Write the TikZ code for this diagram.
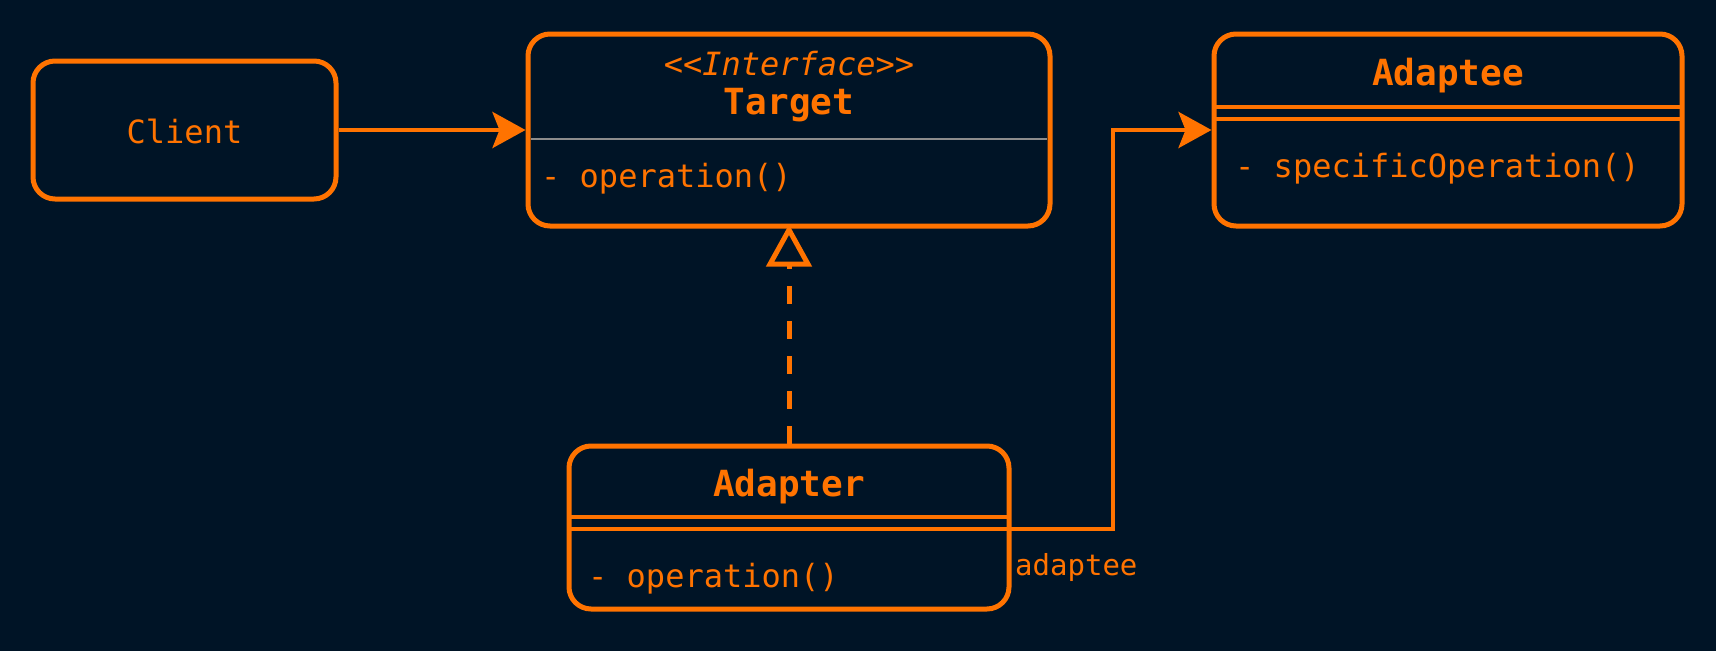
\documentclass[tikz,border=0pt]{standalone}
\usepackage{fontspec}
\setmonofont{DejaVu Sans Mono}
\usetikzlibrary{arrows.meta}
\definecolor{bg}{RGB}{0,20,38}
\definecolor{org}{RGB}{255,115,0}
\definecolor{divgray}{RGB}{140,140,140}
\begin{document}
\begin{tikzpicture}[x=1pt,y=-1pt,
  box/.style={draw=org, line width=5pt, rounded corners=22pt, rectangle, inner sep=0pt},
  body/.style={text=org, font=\ttfamily\fontsize{32}{38}\selectfont, inner sep=0pt},
  title/.style={text=org, font=\ttfamily\bfseries\fontsize{36}{42}\selectfont, inner sep=0pt},
  stereo/.style={text=org, font=\ttfamily\itshape\fontsize{32}{38}\selectfont, inner sep=0pt},
  lbl/.style={text=org, font=\ttfamily\fontsize{29}{34}\selectfont, inner sep=0pt},
  sep/.style={draw=org, line width=4.5pt},
  conn/.style={draw=org, line width=4.5pt},
  filledhead/.style={-{Stealth[length=33pt,width=36pt,inset=7pt]}},
  openhead/.style={-{Triangle[open,length=42pt,width=45pt,fill=bg]}},
  ]
\useasboundingbox (0,0) rectangle (1716,651);
\fill[bg] (0,0) rectangle (1716,651);

% Client
\node[box, minimum width=303pt, minimum height=138pt] (client) at (184.5,130) {};
\node[body] (clienttxt) at (184.5,131) {Client};

% Target
\node[box, minimum width=522pt, minimum height=192pt] (target) at (789,130) {};
\node[stereo, anchor=base] (targetstereo) at (789,75) {<<Interface>>};
\node[title, anchor=base] (targettitle) at (789,114) {Target};
\draw[divgray, line width=2.5pt] (531,139) -- (1047,139);
\node[body, anchor=base west] (targetop) at (541,187) {- operation()};

% Adaptee
\node[box, minimum width=468pt, minimum height=192pt] (adaptee) at (1448,130) {};
\node[title, anchor=base] (adapteetitle) at (1448,85) {Adaptee};
\draw[sep] (1216,107) -- (1680,107);
\draw[sep] (1216,119) -- (1680,119);
\node[body, anchor=base west] (adapteeop) at (1235,177) {- specificOperation()};

% Adapter
\node[box, minimum width=440pt, minimum height=163pt] (adapter) at (789,527.5) {};
\node[title, anchor=base] (adaptertitle) at (789,496) {Adapter};
\draw[sep] (571,517) -- (1007,517);
\draw[sep] (571,529) -- (1007,529);
\node[body, anchor=base west] (adapterop) at (588,587) {- operation()};

% Connectors
\draw[conn, filledhead] (client.east) -- (target.west);
\draw[conn, openhead, line width=5pt, dash pattern=on 18pt off 17pt] (adapter.north) -- ([yshift=4pt]target.south);
\coordinate (assocstart) at (1009,529);
\coordinate (assocbend) at (1113,130);
\draw[conn, filledhead] (assocstart) -| (assocbend) -- (adaptee.west);
\node[lbl, anchor=base west] (assoclbl) at (1015,575) {adaptee};
\end{tikzpicture}
\end{document}
